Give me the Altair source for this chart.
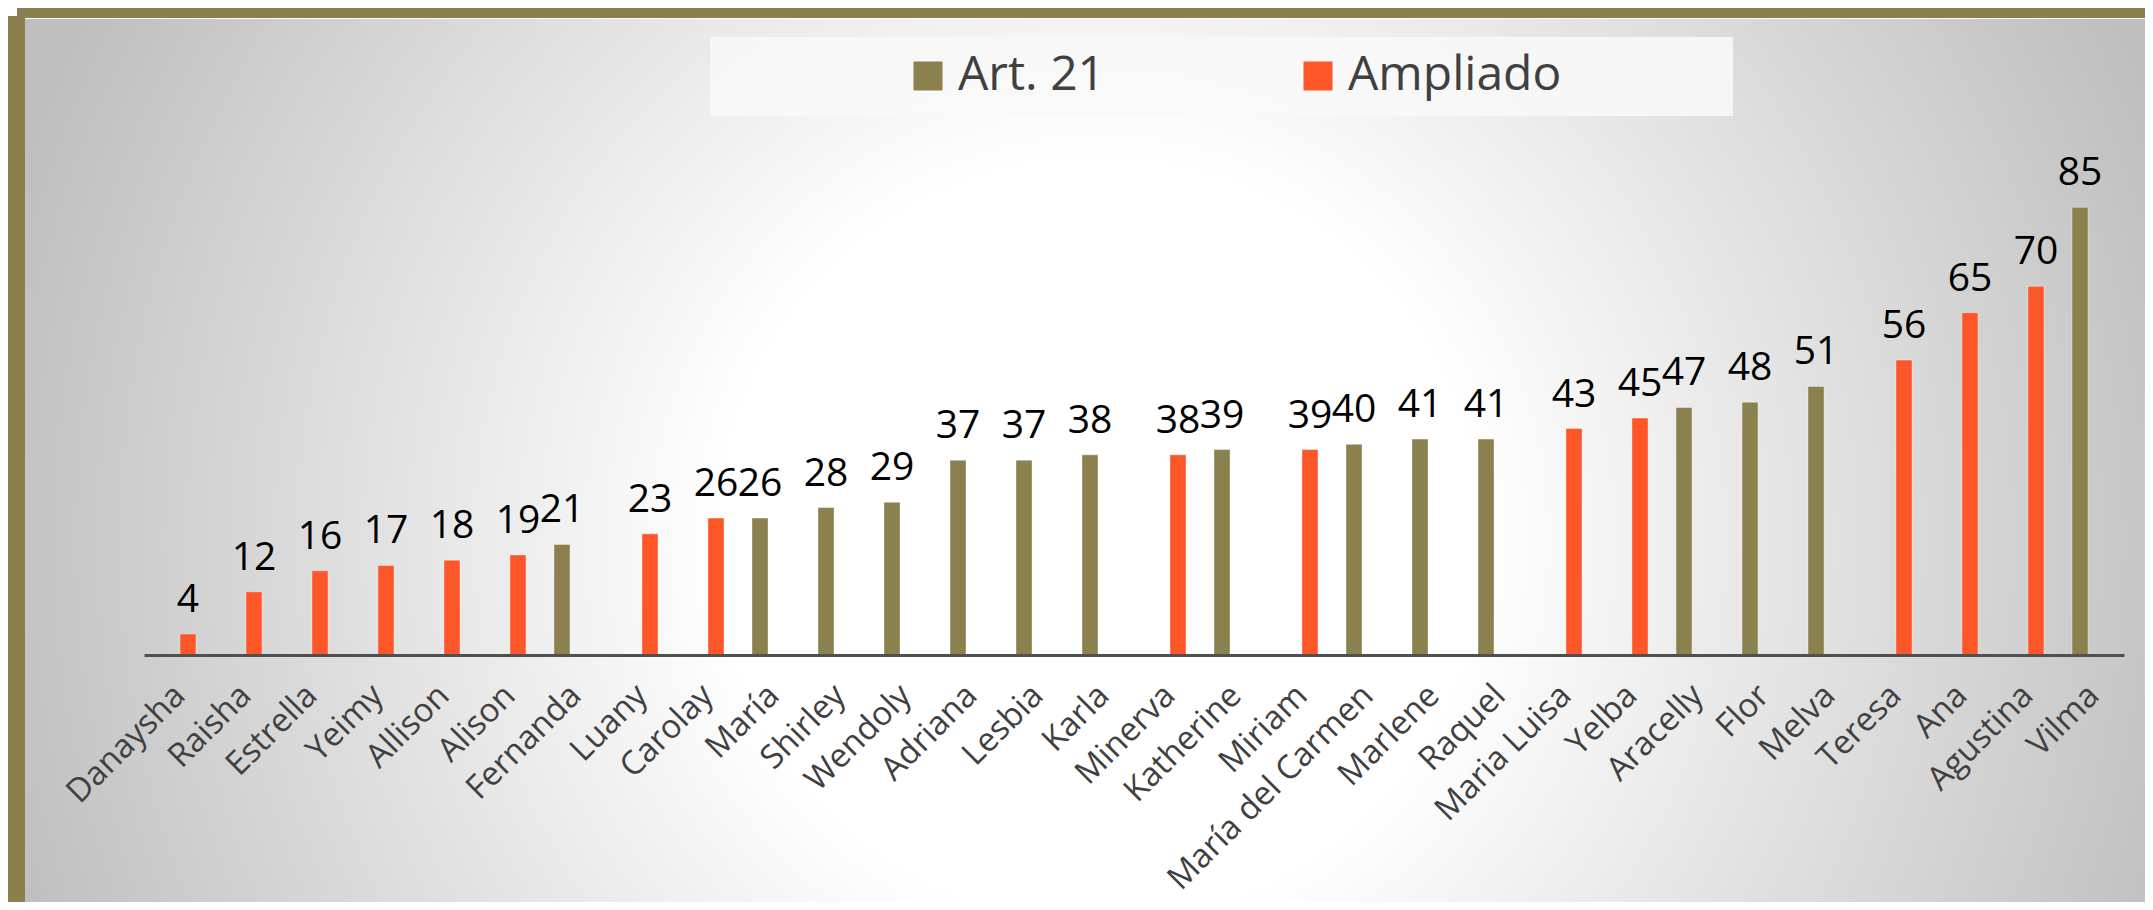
import altair as alt
import pandas as pd

names = ["Danaysha", "Raisha", "Estrella", "Yeimy", "Allison", "Alison", "Fernanda",
         "Luany", "Carolay", "María", "Shirley", "Wendoly", "Adriana", "Lesbia", "Karla",
         "Minerva", "Katherine", "Miriam", "María del Carmen", "Marlene", "Raquel",
         "Maria Luisa", "Yelba", "Aracelly", "Flor", "Melva", "Teresa", "Ana", "Agustina", "Vilma"]
values = [4, 12, 16, 17, 18, 19, 21, 23, 26, 26, 28, 29, 37, 37, 38, 38, 39, 39, 40, 41, 41,
          43, 45, 47, 48, 51, 56, 65, 70, 85]
groups = (["Ampliado"] * 6 + ["Art. 21"] + ["Ampliado"] * 2 + ["Art. 21"] * 6 +
          ["Ampliado"] + ["Art. 21"] + ["Ampliado"] + ["Art. 21"] * 3 +
          ["Ampliado"] * 2 + ["Art. 21"] * 3 + ["Ampliado"] * 3 + ["Art. 21"])
series_order = ["Art. 21", "Ampliado"]
colors = ["#8A814E", "#FD5628"]

df = pd.DataFrame({"name": names, "value": values, "series": groups})

W, H = 1980, 474
PL, PT, PR, PB = 136, 173, 21, 247
FRAME = "#8A804D"

x = alt.X("name:N", sort=names,
          scale=alt.Scale(paddingInner=0.424, paddingOuter=0.212),
          axis=alt.Axis(title=None, labelAngle=-45, labelAlign="right", labelBaseline="middle",
                        labelFont="Open Sans", labelFontSize=33, labelColor="#404040",
                        labelPadding=35, labelOffset=3, labelLimit=800, ticks=False,
                        domainColor="#505050", domainWidth=3, grid=False,
                        labelOverlap=False, zindex=2))
xo = alt.XOffset("series:N", sort=series_order,
                 scale=alt.Scale(domain=series_order, paddingInner=0.27, paddingOuter=0))
y = alt.Y("value:Q", scale=alt.Scale(domain=[0, 90], nice=False, zero=True), axis=None)

one = alt.Data(values=[{"k": 1}])

bg = alt.Chart(one).mark_rect(
    color=alt.RadialGradient(
        gradient="radial",
        stops=[alt.GradientStop(color="#FFFFFF", offset=0),
               alt.GradientStop(color="#FFFFFF", offset=0.33),
               alt.GradientStop(color="#BEBEBE", offset=1)],
        x1=0.507, y1=0.5375, r1=0, x2=0.507, y2=0.5375, r2=0.54)
).encode(x=alt.value(-119), x2=alt.value(2001), y=alt.value(-162), y2=alt.value(721))

frame_top = alt.Chart(one).mark_rect(color=FRAME).encode(
    x=alt.value(-127), x2=alt.value(2001), y=alt.value(-173), y2=alt.value(-163))
frame_left = alt.Chart(one).mark_rect(color=FRAME).encode(
    x=alt.value(-136), x2=alt.value(-119), y=alt.value(-165), y2=alt.value(721))

legend_box = alt.Chart(one).mark_rect(color="#F8F8F8", opacity=0.9).encode(
    x=alt.value(566), x2=alt.value(1589), y=alt.value(-144), y2=alt.value(-65))

bars = alt.Chart(df).mark_bar(stroke="#FFFFFF", strokeOpacity=0.4, strokeWidth=1).encode(
    x=x, xOffset=xo, y=y,
    color=alt.Color("series:N",
                    scale=alt.Scale(domain=series_order, range=colors),
                    legend=alt.Legend(title=None, orient="none", legendX=760, legendY=-129,
                                      direction="horizontal", columns=2, symbolType="square",
                                      symbolSize=841, symbolStrokeWidth=0,
                                      labelFont="Open Sans", labelFontSize=48,
                                      labelColor="#404040", labelOffset=6,
                                      columnPadding=188, padding=0, labelLimit=400)))

labels = alt.Chart(df).mark_text(font="Open Sans", fontSize=39, color="#000000",
                                 baseline="alphabetic", align="center", dy=-22).encode(
    x=x, xOffset=xo, y=y, text="value:Q")

chart = alt.layer(bg, frame_top, frame_left, legend_box, bars, labels).properties(
    width=W, height=H,
    autosize=alt.AutoSizeParams(type="none"),
    padding={"left": PL, "top": PT, "right": PR, "bottom": PB},
).configure_view(stroke=None)

chart.save("out.html", embed_options={"renderer": "svg", "actions": False})
